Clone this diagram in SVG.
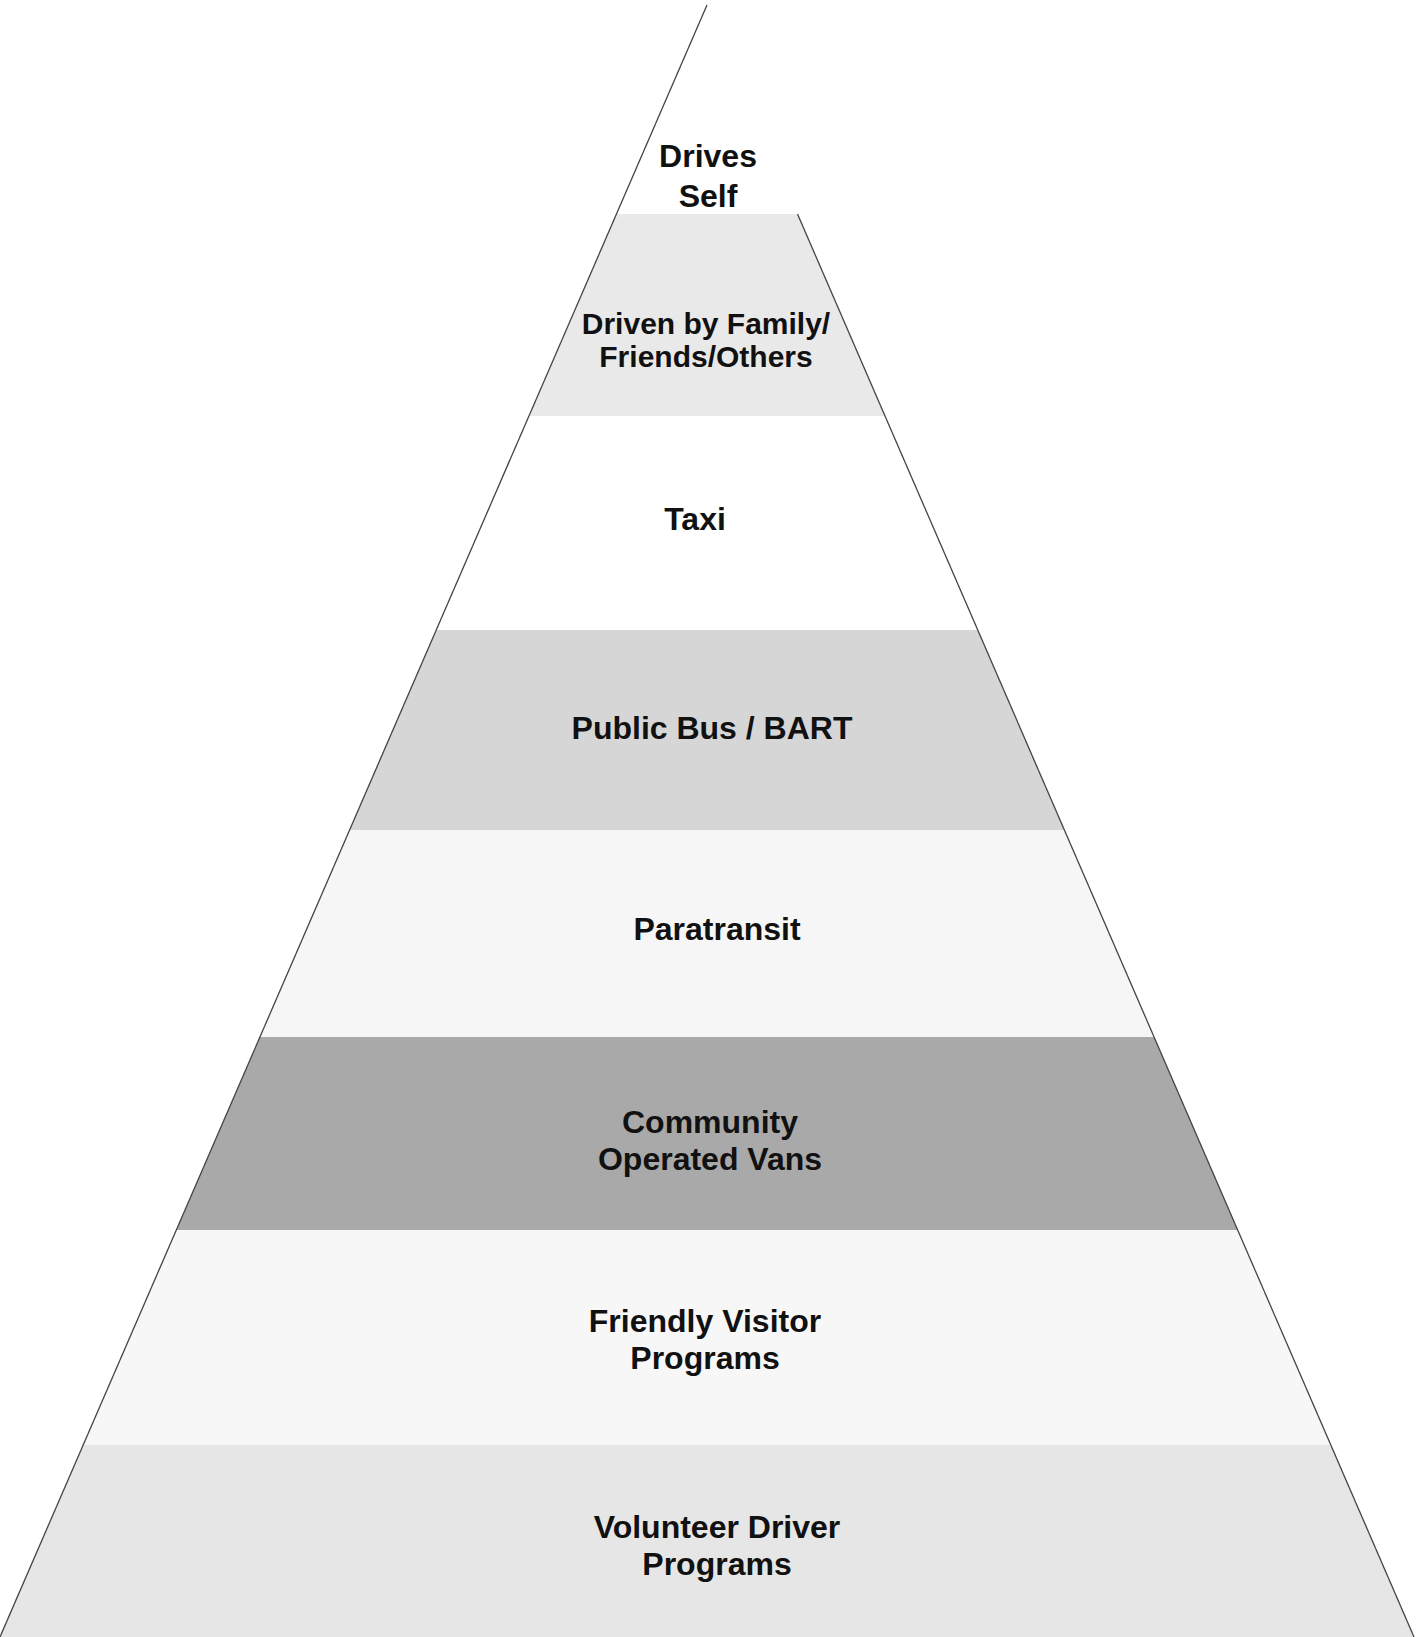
<svg xmlns="http://www.w3.org/2000/svg" width="1422" height="1637" viewBox="0 0 1422 1637">
<style>
.lbl{font-family:"Liberation Sans",Arial,sans-serif;font-weight:bold;font-size:32px;fill:#111;text-anchor:middle}
.sm{font-size:30px}
.edge{stroke:#444;stroke-width:1.3;fill:none}
</style>
<rect width="1422" height="1637" fill="#fff"/>
<g id="band-drives-self">
<polygon points="707,5 797.5,214 616.5,214" fill="#ffffff"/>
<text class="lbl" x="708" y="167">Drives</text>
<text class="lbl" x="708" y="207">Self</text>
</g>
<g id="band-driven-by-family">
<polygon points="616.5,214 797.5,214 885,416 529,416" fill="#e9e9e9"/>
<text class="lbl sm" x="706" y="334">Driven by Family/</text>
<text class="lbl sm" x="706" y="367">Friends/Others</text>
</g>
<g id="band-taxi">
<polygon points="529,416 885,416 977.8,630 436.2,630" fill="#ffffff"/>
<text class="lbl" x="695" y="530">Taxi</text>
</g>
<g id="band-public-bus">
<polygon points="436.2,630 977.8,630 1064.4,830 349.6,830" fill="#d6d6d6"/>
<text class="lbl" x="712" y="739">Public Bus / BART</text>
</g>
<g id="band-paratransit">
<polygon points="349.6,830 1064.4,830 1154.1,1037 259.9,1037" fill="#f6f6f6"/>
<text class="lbl" x="717" y="940">Paratransit</text>
</g>
<g id="band-community-vans">
<polygon points="259.9,1037 1154.1,1037 1237.7,1230 176.3,1230" fill="#a9a9a9"/>
<text class="lbl" x="710" y="1133">Community</text>
<text class="lbl" x="710" y="1170">Operated Vans</text>
</g>
<g id="band-friendly-visitor">
<polygon points="176.3,1230 1237.7,1230 1330.8,1445 83.2,1445" fill="#f7f7f7"/>
<text class="lbl" x="705" y="1332">Friendly Visitor</text>
<text class="lbl" x="705" y="1369">Programs</text>
</g>
<g id="band-volunteer-driver">
<polygon points="83.2,1445 1330.8,1445 1414,1637 0,1637" fill="#e6e6e6"/>
<text class="lbl" x="717" y="1538">Volunteer Driver</text>
<text class="lbl" x="717" y="1575">Programs</text>
</g>
<g id="connectors">
<line class="edge" x1="707" y1="5" x2="0" y2="1637" stroke="#777"/>
<line class="edge" x1="797.5" y1="214" x2="1414" y2="1637"/>
</g>
</svg>
